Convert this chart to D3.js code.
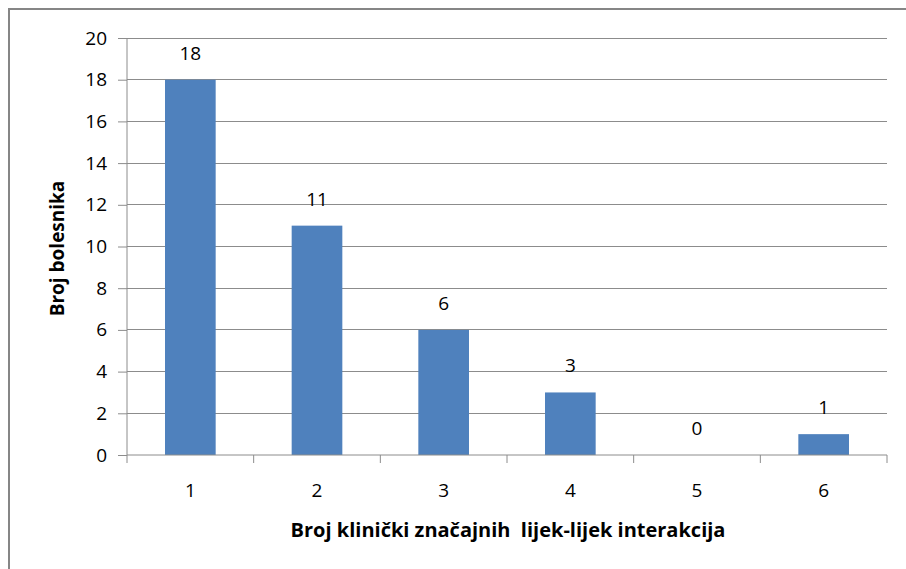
<!DOCTYPE html>
<html>
<head>
<meta charset="utf-8">
<script src="https://cdn.jsdelivr.net/npm/d3@7"></script>
<style>
  body { margin: 0; background: #fff; }
  text { font-family: "Open Sans", "DejaVu Sans", sans-serif; }
</style>
</head>
<body>
<div id="chart"></div>
<script>
// data
const categories = ["1", "2", "3", "4", "5", "6"];
const patients = [18, 11, 6, 3, 0, 1];
const yTicks = [0, 2, 4, 6, 8, 10, 12, 14, 16, 18, 20];

const W = 906, H = 569;
const margin = {top: 38, right: 19, bottom: 114, left: 127};
const width = W - margin.left - margin.right;
const height = H - margin.top - margin.bottom;

const svg = d3.select("#chart").append("svg")
    .attr("width", W)
    .attr("height", H);

// outer frame
svg.append("rect")
    .attr("x", 9).attr("y", 9)
    .attr("width", W + 10).attr("height", H + 10)
    .attr("fill", "none")
    .attr("stroke", "#868686")
    .attr("stroke-width", 2);

const g = svg.append("g")
    .attr("transform", `translate(${margin.left},${margin.top})`);

const x = d3.scaleBand()
    .domain(categories)
    .range([0, width])
    .paddingInner(0.6)
    .paddingOuter(0.3);

const xTickScale = d3.scaleLinear()
    .domain([0, categories.length])
    .range([0, width]);

const y = d3.scaleLinear()
    .domain([0, 20])
    .range([height, 0]);

// gridlines
g.selectAll(".grid")
    .data(yTicks.filter(d => d > 0))
    .enter().append("line")
    .attr("class", "grid")
    .attr("x1", 0).attr("x2", width)
    .attr("y1", d => y(d)).attr("y2", d => y(d))
    .attr("stroke", "#8c8c8c")
    .attr("stroke-width", 1)
    .attr("shape-rendering", "crispEdges");

// bars
g.selectAll(".bar")
    .data(patients)
    .enter().append("rect")
    .attr("class", "bar")
    .attr("x", (d, i) => x(categories[i]))
    .attr("y", d => y(d))
    .attr("width", x.bandwidth())
    .attr("height", d => height - y(d))
    .attr("fill", "#4f81bd");

// value labels
g.selectAll(".val")
    .data(patients)
    .enter().append("text")
    .attr("class", "val")
    .attr("x", (d, i) => x(categories[i]) + x.bandwidth() / 2)
    .attr("y", d => y(d) - 20)
    .attr("text-anchor", "middle")
    .attr("font-size", 19)
    .attr("fill", "#000")
    .text(d => d);

// y axis
const yAxis = d3.axisLeft(y)
    .tickValues(yTicks)
    .tickSize(9)
    .tickPadding(11);
const yAxisG = g.append("g").call(yAxis);
yAxisG.select(".domain").attr("stroke", "#8c8c8c").attr("d", `M0,0V${height}`);
yAxisG.selectAll(".tick line").attr("stroke", "#8c8c8c");
yAxisG.selectAll(".tick text").attr("font-size", 19).attr("fill", "#000")
    .attr("font-family", "'Open Sans', sans-serif");

// x axis: ticks at category boundaries, labels at centres
const xAxisG = g.append("g").attr("transform", `translate(0,${height})`);
xAxisG.append("line")
    .attr("x1", 0).attr("x2", width)
    .attr("stroke", "#8c8c8c");
xAxisG.selectAll(".xtick")
    .data(d3.range(categories.length + 1))
    .enter().append("line")
    .attr("class", "xtick")
    .attr("x1", d => xTickScale(d)).attr("x2", d => xTickScale(d))
    .attr("y1", 0).attr("y2", 8)
    .attr("stroke", "#8c8c8c");
xAxisG.selectAll(".xlab")
    .data(categories)
    .enter().append("text")
    .attr("class", "xlab")
    .attr("x", d => x(d) + x.bandwidth() / 2)
    .attr("y", 42)
    .attr("text-anchor", "middle")
    .attr("font-size", 19)
    .text(d => d);

// axis titles
svg.append("text")
    .attr("x", margin.left + width / 2 + 1)
    .attr("y", 537)
    .attr("text-anchor", "middle")
    .attr("font-size", 20)
    .attr("font-weight", "bold")
    .style("white-space", "pre")
    .text("Broj klinički značajnih  lijek-lijek interakcija");

svg.append("text")
    .attr("transform", `translate(64,${margin.top + height / 2 + 2}) rotate(-90)`)
    .attr("text-anchor", "middle")
    .attr("font-size", 19)
    .attr("font-weight", "bold")
    .text("Broj bolesnika");
</script>
</body>
</html>
